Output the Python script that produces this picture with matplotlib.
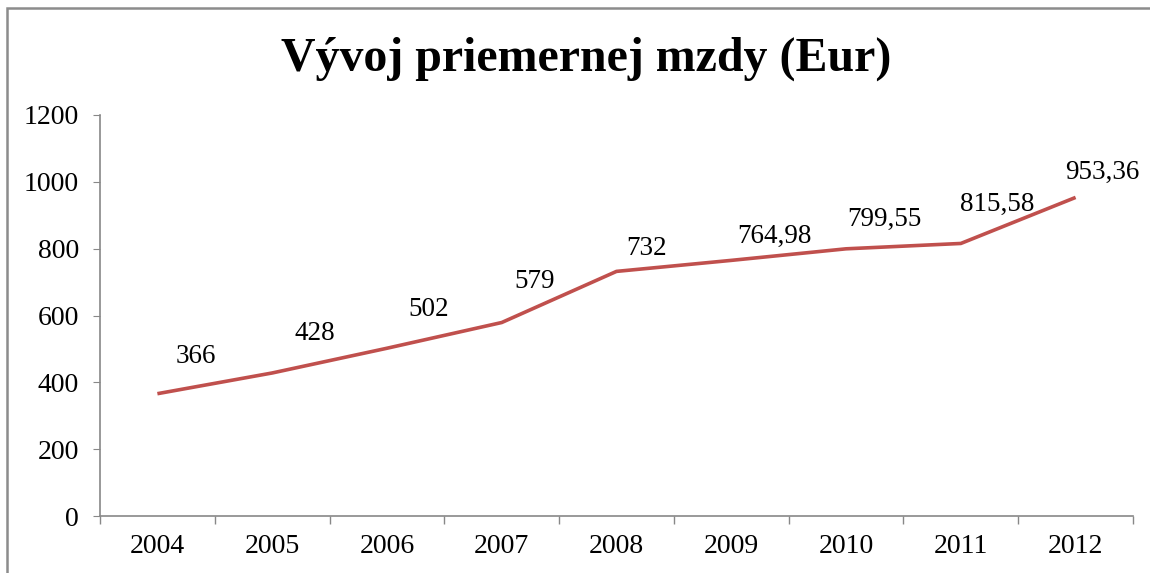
import matplotlib.pyplot as plt
from matplotlib.patches import Rectangle

# data
years = ['2004', '2005', '2006', '2007', '2008', '2009', '2010', '2011', '2012']
mzda = [366, 428, 502, 579, 732, 764.98, 799.55, 815.58, 953.36]
labels = ['366', '428', '502', '579', '732', '764,98', '799,55', '815,58', '953,36']

# label offsets (pixels, dx/dy from the point)
label_dx = [38, 43, 42, 33, 30, 43, 38, 36, 27]
label_dy = [37, 39, 39, 41, 23, 24, 29, 39, 25]

plt.rcParams['font.family'] = ['Liberation Serif', 'DejaVu Serif']

fig = plt.figure(figsize=(11.5, 5.73), dpi=100)
ax = fig.add_axes([100/1150, 57/573, 1033/1150, 401/573])

x = range(len(years))
ax.plot(x, mzda, color='#C0504D', lw=2.6, solid_capstyle='butt')

for i, (v, t) in enumerate(zip(mzda, labels)):
    ax.annotate(t, (i, v), xytext=(label_dx[i] * 0.72, label_dy[i] * 0.72),
                textcoords='offset points', ha='center', va='center', fontsize=19.5)

ax.set_xlim(-0.5, len(years) - 0.5)
ax.set_ylim(0, 1200)
ax.set_yticks(range(0, 1201, 200))
ax.set_xticks(x)
ax.set_xticklabels(years, fontsize=20)
ax.set_xticks([i - 0.5 for i in range(len(years) + 1)], minor=True)
ax.tick_params(axis='x', which='major', length=0, pad=13)
ax.tick_params(axis='x', which='minor', length=6, color='#888888', width=1)
ax.tick_params(axis='y', labelsize=20, length=5, color='#888888', pad=10)

for s in ['top', 'right']:
    ax.spines[s].set_visible(False)
for s in ['left', 'bottom']:
    ax.spines[s].set_color('#888888')
    ax.spines[s].set_linewidth(1.2)

fig.text(586/1150, 1 - 59/573, 'Vývoj priemernej mzdy (Eur)', ha='center', va='center',
         fontsize=34.5, fontweight='bold')

# outer chart border (cut off at right and bottom)
fig.patches.append(Rectangle((7/1150, -0.5), 2, 1.5 - 8/573, transform=fig.transFigure,
                             fill=False, edgecolor='#8c8c8c', lw=1.8))

fig.savefig('out.png', dpi=100)
